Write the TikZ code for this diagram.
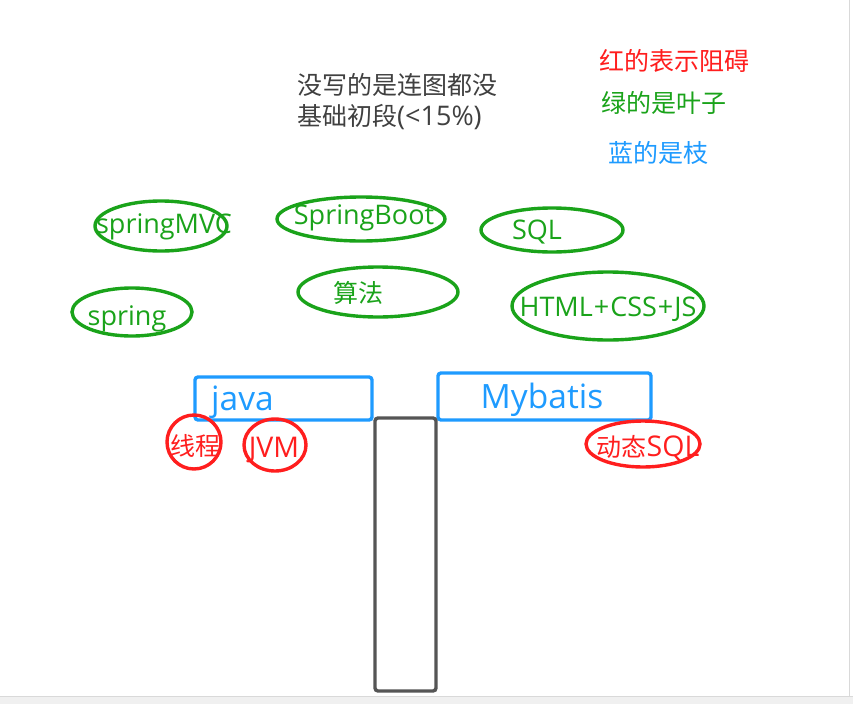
\documentclass[tikz,border=0pt]{standalone}
\usepackage{fontspec}
\setmainfont{Open Sans}
\newfontfamily\cjk{Noto Sans CJK SC}
\newcommand{\zh}[1]{{\cjk\fontsize{25}{31}\selectfont #1}}
\usetikzlibrary{positioning}
\definecolor{leafgreen}{HTML}{1AA31A}
\definecolor{blockred}{HTML}{FF1E1E}
\definecolor{branchblue}{HTML}{1E9BFF}
\definecolor{notegray}{HTML}{404040}
\definecolor{trunkgray}{HTML}{555555}
\definecolor{framegray}{HTML}{F0F0F0}
\tikzset{leaf/.style={leafgreen, line width=3.4pt},
         block/.style={blockred, line width=3.4pt},
         branch/.style={branchblue, line width=3.4pt, rounded corners=3pt},
         lbl/.style={font=\fontsize{27}{31}\selectfont, inner sep=0pt},
         red lbl/.style={font=\fontsize{28.5}{31}\selectfont, inner sep=0pt, text=blockred},
         big lbl/.style={font=\fontsize{33.5}{36}\selectfont, inner sep=0pt, text=branchblue}}

\begin{document}
\begin{tikzpicture}[x=1pt,y=-1pt]
\useasboundingbox (0,0) rectangle (853,704);
\fill[white] (0,0) rectangle (853,704);
\fill[framegray] (0,696) rectangle (853,704);
\draw[gray!30] (0,696) -- (853,696);
\draw[gray!30] (849.5,0) -- (849.5,696);

% note and legend
\node[lbl, text=notegray, anchor=west, align=left,
      font=\fontsize{27}{31}\selectfont] (note) at (297,102)
      {\zh{没写的是连图都没}\\\zh{基础初段}(<15\%)};
\node[lbl, text=blockred, anchor=west] (redkey) at (599,61) {\zh{红的表示阻碍}};
\node[lbl, text=leafgreen, anchor=west] (greenkey) at (601,103) {\zh{绿的是叶子}};
\node[lbl, text=branchblue, anchor=west] (bluekey) at (608,153) {\zh{蓝的是枝}};

% leaves
\draw[leaf] (161,226) ellipse [x radius=66pt, y radius=25pt];
\node[lbl, text=leafgreen] (mvc) at (164,227) {springMVC};
\draw[leaf] (361,219) ellipse [x radius=84pt, y radius=22pt];
\node[lbl, text=leafgreen] (boot) at (364,218) {SpringBoot};
\draw[leaf] (552,230) ellipse [x radius=71pt, y radius=22pt];
\node[lbl, text=leafgreen] (sql) at (537,232) {SQL};
\draw[leaf] (132,312) ellipse [x radius=60pt, y radius=24pt];
\node[lbl, text=leafgreen] (spring) at (127,319) {spring};
\draw[leaf] (378,292) ellipse [x radius=80pt, y radius=25pt];
\node[lbl, text=leafgreen] (algo) at (358,293) {\zh{算法}};
\draw[leaf] (608,306) ellipse [x radius=96pt, y radius=34pt];
\node[lbl, text=leafgreen] (web) at (608,309)
      {HTML\hspace{1pt}+\hspace{1pt}CSS\hspace{1pt}+\hspace{1pt}JS};

% branches
\draw[branch] (195,377) rectangle (372,420);
\node[big lbl, anchor=west] (java) at (211,402) {java};
\draw[branch] (438,373) rectangle (651,420);
\node[big lbl] (mybatis) at (542,400) {Mybatis};

% trunk
\draw[trunkgray, line width=3.4pt, rounded corners=3pt] (375,418) rectangle (436,691);

% blocks
\draw[block] (194,442) circle (27pt);
\node[red lbl] (thread) at (195,446) {\zh{线程}};
\draw[block] (275,445) ellipse [x radius=31pt, y radius=26pt];
\node[red lbl] (jvm) at (274,450) {JVM};
\draw[block] (643,444) ellipse [x radius=57pt, y radius=23pt];
\node[red lbl] (dynsql) at (648,448) {\zh{动态}SQL};
\end{tikzpicture}
\end{document}
